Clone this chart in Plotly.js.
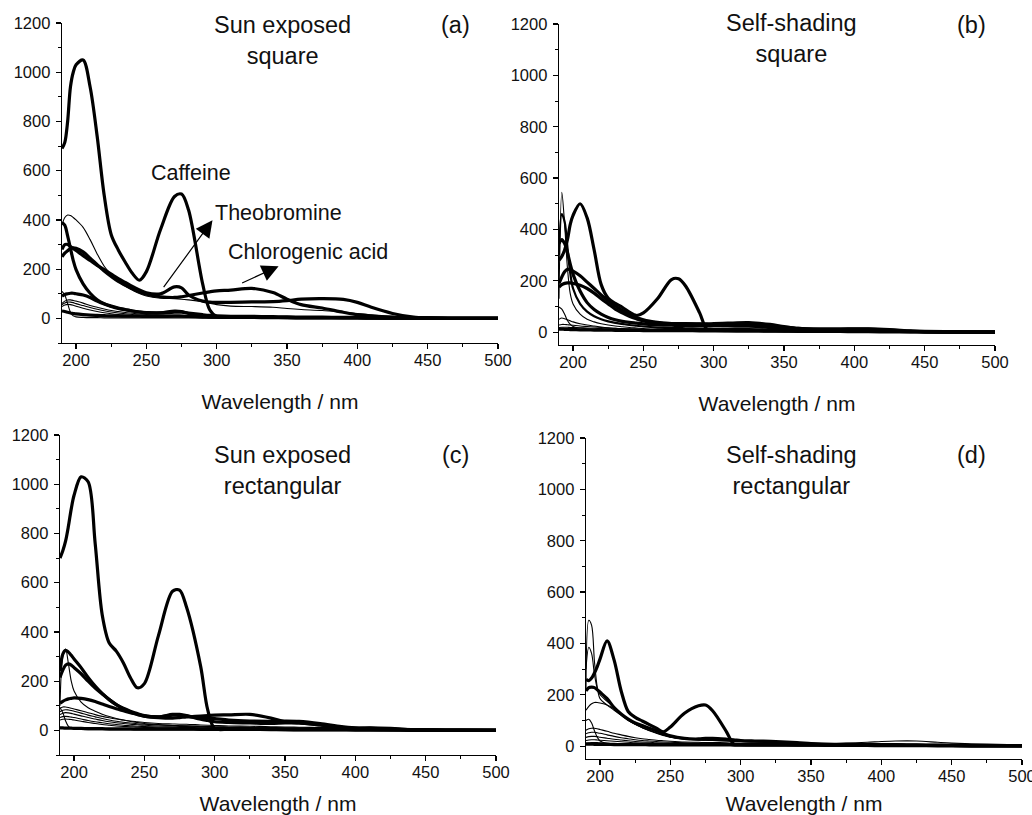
<!DOCTYPE html>
<html>
<head>
<meta charset="utf-8">
<script src="https://cdn.plot.ly/plotly-3.0.1.min.js"></script>
<style>
  html, body { margin: 0; padding: 0; background: #fff; }
  #chart { width: 1032px; height: 815px; }
</style>
</head>
<body>
<div id="chart"></div>
<script>
// Wavelength grid (nm) shared by every spectrum
const wavelength = [190,192,194,196,198,200,205,210,215,220,225,230,235,240,245,250,260,270,275,280,290,295,300,310,325,340,350,360,375,390,400,410,425,440,450,475,500];

// (a) Sun exposed, square
const sunSquareCaffeine     = [690,715,800,940,1000,1030,1050,940,740,500,340,278,228,183,155,190,360,495,505,440,140,35,8,6,4,3,3,2,2,2,2,1,1,1,0,0,0];
const sunSquareTheobromine  = [280,300,300,292,284,276,255,235,215,198,180,162,146,130,116,104,100,128,124,95,70,66,65,65,67,68,72,78,80,77,65,45,20,5,2,0,0];
const sunSquareChlorogenic  = [250,265,275,283,287,285,270,245,218,192,170,150,135,120,108,98,88,85,88,93,103,108,112,115,122,105,78,56,42,25,15,10,5,2,1,0,0];
const sunSquareThin420      = [380,410,420,418,410,400,370,320,262,212,178,150,130,115,101,91,82,80,78,75,68,62,56,50,48,45,40,36,32,25,20,14,8,3,2,0,0];
const sunSquareFastDrop     = [390,378,335,285,235,198,140,102,76,60,50,42,36,30,26,23,22,30,28,20,10,7,6,5,4,4,3,3,3,2,2,2,1,1,1,0,0];
const sunSquareBroad100     = [90,97,100,102,102,100,95,85,70,58,48,40,35,30,26,24,22,25,25,22,15,12,10,8,8,7,6,5,5,4,4,3,2,1,1,0,0];
const sunSquareThin75       = [60,70,75,75,73,70,62,52,45,38,32,28,24,21,18,16,14,14,13,12,10,9,8,7,6,5,5,4,4,3,3,2,1,1,0,0,0];
const sunSquareThin65       = [55,62,66,66,64,60,52,44,37,31,26,22,19,16,14,12,10,10,9,8,7,6,6,5,5,4,4,3,3,2,2,2,1,1,0,0,0];
const sunSquareThin55       = [48,54,57,56,53,49,41,34,28,23,19,16,14,12,10,9,8,8,7,7,6,5,5,4,4,3,3,3,2,2,2,1,1,0,0,0,0];
const sunSquareSpike110     = [110,95,60,25,10,6,4,3,3,2,2,2,2,2,2,2,2,2,2,2,1,1,1,1,1,1,1,1,1,1,1,0,0,0,0,0,0];
const sunSquareBaseline     = [30,28,25,22,20,18,15,13,12,11,10,10,9,9,9,8,8,9,9,8,6,5,5,4,4,4,4,3,3,3,3,2,2,1,1,0,0];

// (b) Self-shading, square
const shadeSquareCaffeine   = [280,295,320,360,420,455,500,445,320,185,132,112,97,78,65,75,130,205,208,180,75,12,8,6,5,5,4,3,3,3,2,2,1,1,0,0,0];
const shadeSquareSpike550   = [130,545,420,250,150,110,70,50,40,33,28,24,21,18,16,14,12,11,11,10,9,9,8,8,8,7,6,5,4,4,4,3,2,1,1,0,0];
const shadeSquareSpike460   = [300,460,430,330,230,170,110,80,62,50,42,36,32,28,25,22,18,16,16,15,14,14,13,12,12,10,8,6,5,4,4,3,2,1,1,0,0];
const shadeSquareSharp360   = [345,360,345,310,265,225,160,115,88,70,57,48,42,38,35,32,28,27,26,26,25,25,25,24,23,18,13,10,8,7,7,6,4,2,1,0,0];
const shadeSquareBroad245   = [190,215,235,245,243,238,220,195,170,145,122,102,85,70,58,48,38,33,32,32,32,32,33,35,37,30,22,15,12,12,13,13,10,5,3,1,0];
const shadeSquareBroad190   = [175,185,190,192,192,190,183,170,152,130,110,90,75,62,52,44,36,33,33,33,31,30,30,30,30,26,20,15,12,12,12,12,8,4,2,1,0];
const shadeSquareThin100    = [98,90,70,45,30,22,16,13,11,10,9,8,8,7,7,6,6,6,6,5,5,5,5,4,4,4,3,3,3,2,2,2,1,1,0,0,0];
const shadeSquareThin55     = [50,55,52,48,44,40,33,28,24,20,17,15,13,12,11,10,9,9,8,8,7,7,7,6,6,5,5,4,4,3,3,3,2,1,1,0,0];
const shadeSquareThin30     = [28,30,30,29,28,27,24,22,20,18,16,15,14,13,12,11,10,10,9,9,8,8,8,7,7,6,6,5,5,4,4,3,3,2,1,1,0];
const shadeSquareThin18     = [18,19,19,19,18,18,17,16,15,14,13,12,12,11,11,10,9,9,9,8,8,8,7,7,6,6,5,5,4,4,4,3,3,2,1,1,0];
const shadeSquareBaseline   = [12,12,11,11,10,10,9,9,8,8,8,7,7,7,7,6,6,6,6,6,5,5,5,5,5,4,4,4,4,4,4,3,3,2,2,1,1];

// (c) Sun exposed, rectangular
const sunRectCaffeine       = [700,730,770,830,900,955,1030,1010,760,470,355,322,275,215,173,190,385,565,570,500,260,84,8,5,4,3,3,2,2,2,1,1,1,0,0,0,0];
const sunRectSharp320       = [240,310,325,318,305,290,255,215,180,150,125,105,90,78,68,60,55,62,62,58,52,50,48,42,38,37,38,37,28,15,10,8,5,3,2,1,0];
const sunRectBroad270       = [215,245,265,270,265,255,230,200,172,148,125,105,88,75,65,58,52,50,52,55,58,60,62,63,65,50,35,30,22,12,8,5,3,1,1,0,0];
const sunRectBroad130       = [110,118,124,128,130,132,130,125,117,107,97,88,80,72,65,58,55,65,65,60,45,40,35,32,30,28,30,30,22,12,8,10,8,3,2,1,0];
const sunRectSpike330       = [100,300,330,270,200,160,115,92,78,66,56,48,42,36,32,28,24,20,19,18,15,14,12,11,10,9,8,7,6,5,4,4,3,2,1,1,0];
const sunRectThin95         = [90,95,95,93,90,87,80,72,64,57,51,46,42,38,35,32,28,26,25,25,22,21,20,18,17,15,14,13,12,12,12,13,10,5,3,1,0];
const sunRectThin82         = [76,82,84,83,81,78,70,62,55,48,42,37,33,30,27,25,22,20,19,19,17,16,15,14,13,12,11,10,9,9,9,10,8,4,2,1,0];
const sunRectThin70         = [64,70,72,71,69,66,59,52,46,40,35,31,28,25,23,21,18,17,16,16,14,13,13,12,11,10,9,8,7,7,7,7,6,3,2,1,0];
const sunRectThin57         = [52,56,57,56,54,52,46,40,35,31,27,24,21,19,17,16,14,13,12,12,11,10,10,9,8,8,7,6,6,5,5,5,4,2,1,1,0];
const sunRectThin46         = [42,45,46,45,44,42,37,32,28,24,21,18,16,15,13,12,11,10,10,9,8,8,7,7,6,6,5,5,4,4,4,3,3,2,1,1,0];
const sunRectSpike90        = [92,72,38,16,8,5,4,3,3,3,2,2,2,2,2,2,2,2,2,2,1,1,1,1,1,1,1,1,1,1,1,0,0,0,0,0,0];
const sunRectBaseline       = [10,10,9,9,9,8,8,7,7,7,6,6,6,6,5,5,5,5,5,5,4,4,4,4,4,4,3,3,3,3,3,3,2,2,2,1,1];

// (d) Self-shading, rectangular
const shadeRectCaffeine     = [260,255,265,285,310,340,410,335,215,135,112,98,84,70,56,75,128,157,160,138,55,8,6,5,5,4,4,3,3,3,2,2,2,1,1,0,0];
const shadeRectSpike515     = [220,490,470,330,230,185,160,140,120,100,85,72,62,52,44,36,28,24,23,22,20,19,18,16,14,12,10,9,8,8,8,8,7,5,4,2,1];
const shadeRectSpike390     = [300,385,360,280,225,200,175,150,125,102,85,72,60,50,42,35,28,25,25,24,22,20,18,16,14,12,10,9,8,8,8,7,6,4,3,2,1];
const shadeRectBroad230     = [215,228,230,228,220,210,185,150,125,105,90,80,70,60,50,40,30,28,30,30,27,25,22,20,18,14,10,8,7,6,6,6,5,4,3,2,1];
const shadeRectThin170      = [140,155,165,170,170,168,160,145,125,105,88,73,62,52,43,36,28,24,23,22,20,19,18,17,16,14,12,10,12,15,18,20,20,15,12,8,5];
const shadeRectThin105      = [100,105,90,60,35,20,10,7,6,5,5,5,4,4,4,4,4,4,4,4,3,3,3,3,3,3,3,2,2,2,2,2,2,1,1,1,0];
const shadeRectThin70       = [62,68,70,70,68,65,58,50,44,38,33,29,26,23,21,19,16,15,14,14,13,12,12,11,10,9,8,8,7,7,7,7,6,5,4,3,2];
const shadeRectThin52       = [48,52,54,54,52,50,44,38,33,29,25,22,20,18,16,15,13,12,12,11,10,10,9,9,8,8,7,7,6,6,6,6,5,4,3,2,1];
const shadeRectThin38       = [34,37,38,38,37,35,31,27,24,21,18,16,15,13,12,11,10,10,9,9,8,8,8,7,7,6,6,5,5,5,5,5,4,3,3,2,1];
const shadeRectThin25       = [22,24,25,25,24,23,21,19,17,15,13,12,11,10,9,9,8,8,7,7,7,6,6,6,5,5,5,4,4,4,4,4,3,3,2,2,1];
const shadeRectThin14       = [12,13,14,14,14,13,12,11,10,9,9,8,8,7,7,6,6,6,5,5,5,5,4,4,4,4,3,3,3,3,3,3,2,2,2,1,1];
const shadeRectBaseline     = [8,8,8,7,7,7,7,6,6,6,6,6,5,5,5,5,5,5,5,5,5,4,4,4,4,4,4,4,4,4,4,3,3,3,3,2,2];

// Panel labels and annotation texts
const panelTitles = ['Sun exposed<br>square', 'Self-shading<br>square', 'Sun exposed<br>rectangular', 'Self-shading<br>rectangular'];
const panelLetters = ['(a)', '(b)', '(c)', '(d)'];
const xTitle = 'Wavelength / nm';

const THICK = 3.2, THIN = 1.1;
const panels = [
  [[sunSquareThin420, THIN], [sunSquareThin75, THIN], [sunSquareThin65, THIN], [sunSquareThin55, THIN], [sunSquareSpike110, THIN],
   [sunSquareBaseline, THICK], [sunSquareBroad100, THICK], [sunSquareFastDrop, THICK], [sunSquareChlorogenic, THICK],
   [sunSquareTheobromine, THICK], [sunSquareCaffeine, THICK]],
  [[shadeSquareSpike550, THIN], [shadeSquareThin100, THIN], [shadeSquareThin55, THIN], [shadeSquareThin30, THIN], [shadeSquareThin18, THIN],
   [shadeSquareBaseline, THICK], [shadeSquareSpike460, 2.2], [shadeSquareSharp360, THICK], [shadeSquareBroad245, THICK],
   [shadeSquareBroad190, THICK], [shadeSquareCaffeine, THICK]],
  [[sunRectSpike330, THIN], [sunRectThin95, THIN], [sunRectThin82, THIN], [sunRectThin70, THIN], [sunRectThin57, THIN],
   [sunRectThin46, THIN], [sunRectSpike90, THIN], [sunRectBaseline, THICK], [sunRectBroad130, THICK], [sunRectBroad270, THICK],
   [sunRectSharp320, THICK], [sunRectCaffeine, THICK]],
  [[shadeRectSpike515, THIN], [shadeRectSpike390, THIN], [shadeRectThin170, THIN], [shadeRectThin105, THIN], [shadeRectThin70, THIN],
   [shadeRectThin52, THIN], [shadeRectThin38, THIN], [shadeRectThin25, THIN], [shadeRectThin14, THIN],
   [shadeRectBaseline, THICK], [shadeRectBroad230, THICK], [shadeRectCaffeine, THICK]]
];

// Plot boxes in pixels: [left, right, top, bottom], y range, and heading / letter positions
const W = 1032, H = 815;
const boxes = [[62, 498, 23, 343], [559, 995, 24, 345], [60, 496, 435, 755], [586, 1022, 438, 759]];
const yRanges = [[-100, 1200], [-50, 1200], [-100, 1200], [-50, 1200]];
const headingPos = [[282, 40], [791, 39], [282, 470], [791, 470]];
const letterPos = [[455, 25], [971, 25], [455, 455], [971, 455]];

const FONT = 'Liberation Sans, Arial, Helvetica, sans-serif';
const traces = [];
panels.forEach((series, i) => {
  const sfx = i === 0 ? '' : String(i + 1);
  series.forEach(([values, width]) => {
    traces.push({
      x: wavelength, y: values, type: 'scatter', mode: 'lines',
      xaxis: 'x' + sfx, yaxis: 'y' + sfx,
      line: { color: '#000', width: width, shape: 'spline', smoothing: 0.9 },
      hoverinfo: 'skip'
    });
  });
});

const layout = {
  width: W, height: H,
  margin: { l: 0, r: 0, t: 0, b: 0 },
  paper_bgcolor: '#fff', plot_bgcolor: 'rgba(0,0,0,0)',
  showlegend: false,
  font: { family: FONT, color: '#000' },
  annotations: []
};

boxes.forEach(([l, r, t, b], i) => {
  const sfx = i === 0 ? '' : String(i + 1);
  layout['xaxis' + sfx] = {
    domain: [l / W, r / W], anchor: 'y' + sfx, range: [190, 500],
    tick0: 0, dtick: 50, ticks: 'outside', ticklen: 5, tickwidth: 1.2, tickcolor: '#000',
    minor: { ticks: 'outside', ticklen: 3, tickwidth: 1, tickcolor: '#000', dtick: 25, showgrid: false },
    showline: true, linecolor: '#000', linewidth: 1.3, showgrid: false, zeroline: false,
    tickfont: { family: FONT, size: 16.5, color: '#111' }, ticklabelstandoff: -3, ticklabeloverflow: 'allow',
    title: { text: xTitle, font: { family: FONT, size: 21, color: '#111' }, standoff: 26 }
  };
  layout['yaxis' + sfx] = {
    domain: [1 - b / H, 1 - t / H], anchor: 'x' + sfx, range: yRanges[i],
    tick0: 0, dtick: 200, ticks: 'outside', ticklen: 5, tickwidth: 1.2, tickcolor: '#000',
    minor: { ticks: 'outside', ticklen: 3, tickwidth: 1, tickcolor: '#000', dtick: 100, showgrid: false },
    showline: true, linecolor: '#000', linewidth: 1.3, showgrid: false, zeroline: false,
    tickfont: { family: FONT, size: 16.5, color: '#111' }, ticklabelstandoff: 2, ticklabeloverflow: 'allow'
  };
  layout.annotations.push({
    xref: 'paper', yref: 'paper', x: headingPos[i][0] / W, y: 1 - headingPos[i][1] / H,
    xanchor: 'center', yanchor: 'middle',
    text: panelTitles[i], showarrow: false, font: { family: FONT, size: 23.5, color: '#111' }
  });
  layout.annotations.push({
    xref: 'paper', yref: 'paper', x: letterPos[i][0] / W, y: 1 - letterPos[i][1] / H,
    xanchor: 'center', yanchor: 'middle',
    text: panelLetters[i], showarrow: false, font: { family: FONT, size: 23.5, color: '#111' }
  });
});

// Compound labels and arrows in panel (a)
const labelFont = { family: FONT, size: 21.5, color: '#111' };
layout.annotations.push(
  { xref: 'x', yref: 'y', x: 282, y: 590, text: 'Caffeine', showarrow: false, font: labelFont },
  { xref: 'x', yref: 'y', x: 344, y: 427, text: 'Theobromine', showarrow: false, font: labelFont },
  { xref: 'x', yref: 'y', x: 365, y: 269, text: 'Chlorogenic acid', showarrow: false, font: labelFont },
  { xref: 'x', yref: 'y', axref: 'x', ayref: 'y', x: 297, y: 399, ax: 261.5, ay: 121, text: '',
    showarrow: true, arrowhead: 2, arrowsize: 2.8, arrowwidth: 1.2, arrowcolor: '#000' },
  { xref: 'x', yref: 'y', axref: 'x', ayref: 'y', x: 344, y: 212, ax: 317, ay: 141, text: '',
    showarrow: true, arrowhead: 2, arrowsize: 2.8, arrowwidth: 1.2, arrowcolor: '#000' }
);

Plotly.newPlot('chart', traces, layout, { staticPlot: true, displayModeBar: false });
</script>
</body>
</html>
